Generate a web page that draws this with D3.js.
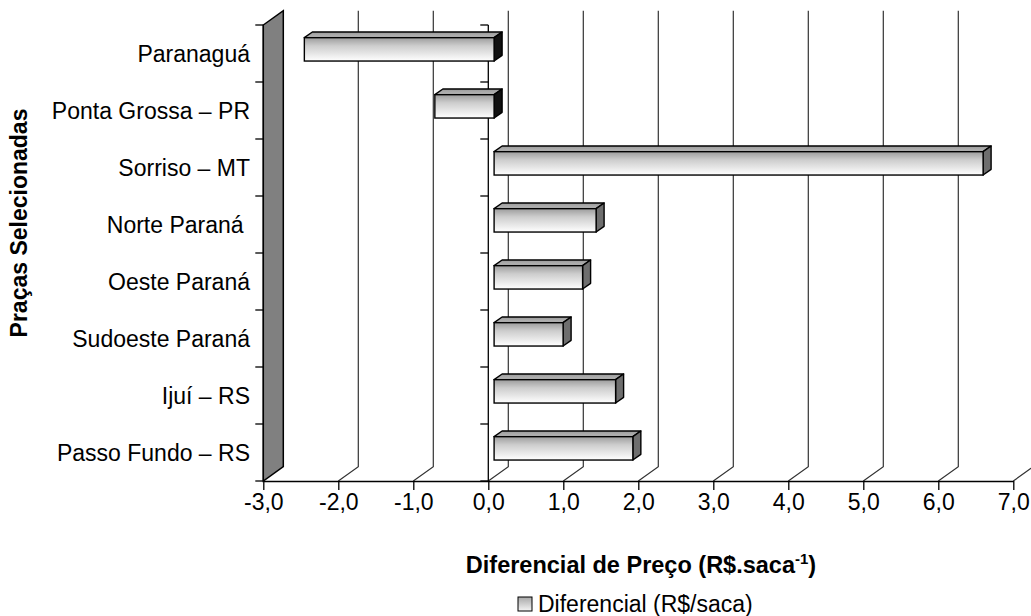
<!DOCTYPE html>
<html>
<head>
<meta charset="utf-8">
<script src="https://cdnjs.cloudflare.com/ajax/libs/d3/7.8.5/d3.min.js"></script>
<style>
  html, body { margin: 0; padding: 0; background: #fff; }
  svg { display: block; font-family: "Liberation Sans", Arial, sans-serif; }
</style>
</head>
<body>
<svg id="chart" width="1031" height="616"></svg>
<script>
// ---- data ----
const categories = ["Paranaguá", "Ponta Grossa – PR", "Sorriso – MT", "Norte Paraná ", "Oeste Paraná", "Sudoeste Paraná", "Ijuí – RS", "Passo Fundo – RS"];
const values = [-2.53, -0.79, 6.52, 1.36, 1.18, 0.92, 1.62, 1.85];
const xTicks = [-3, -2, -1, 0, 1, 2, 3, 4, 5, 6, 7];
const seriesName = "Diferencial (R$/saca)";
const xTitle = "Diferencial de Preço (R$.saca";
const yTitle = "Praças Selecionadas";

// ---- layout ----
const svg = d3.select("#chart");
const x = d3.scaleLinear().domain([-3, 7]).range([263.3, 1013.3]);
const y = d3.scaleBand().domain(categories).range([25, 481]).paddingInner(0).paddingOuter(0);
const DX = 20, DY = -14.3;          // full depth offset
const f1 = 0.29, f2 = 0.69;          // bar depth (front/back fraction)
const barFrac = 0.41;                // bar thickness relative to band
const yTop = y.range()[0], yBot = y.range()[1];
const FS = 23;

const defs = svg.append("defs");
const gFront = defs.append("linearGradient").attr("id", "gFront").attr("x1", 0).attr("y1", 0).attr("x2", 0).attr("y2", 1);
gFront.append("stop").attr("offset", "0%").attr("stop-color", "#9c9c9c");
gFront.append("stop").attr("offset", "35%").attr("stop-color", "#cdcdcd");
gFront.append("stop").attr("offset", "100%").attr("stop-color", "#ffffff");
const gTop = defs.append("linearGradient").attr("id", "gTop").attr("x1", 0).attr("y1", 0).attr("x2", 0).attr("y2", 1);
gTop.append("stop").attr("offset", "0%").attr("stop-color", "#9a9a9a");
gTop.append("stop").attr("offset", "100%").attr("stop-color", "#b8b8b8");
const gLeg = defs.append("linearGradient").attr("id", "gLeg").attr("x1", 0).attr("y1", 0).attr("x2", 0).attr("y2", 1);
gLeg.append("stop").attr("offset", "0%").attr("stop-color", "#a8a8a8");
gLeg.append("stop").attr("offset", "100%").attr("stop-color", "#f4f4f4");

// back gridlines (with floor diagonals)
const grid = svg.append("g");
xTicks.filter(v => v > -3).forEach(v => {
  const xf = x(v), xb = x(v) + DX;
  grid.append("path")
    .attr("d", `M${xb},${yTop + DY}L${xb},${yBot + DY}L${xf},${yBot}`)
    .attr("fill", "none").attr("stroke", "#333").attr("stroke-width", 1.2);
});

// side wall at -3
const x0 = x(-3);
svg.append("path")
  .attr("d", `M${x0},${yTop}L${x0 + DX},${yTop + DY}L${x0 + DX},${yBot + DY}L${x0},${yBot}Z`)
  .attr("fill", "#808080").attr("stroke", "#000").attr("stroke-width", 1.5);

// category axis lines and ticks (wall edge and zero line)
const bounds = d3.range(categories.length + 1).map(i => yTop + i * y.bandwidth());
[x(-3), x(0)].forEach(xx => {
  svg.append("line").attr("x1", xx).attr("x2", xx).attr("y1", yTop).attr("y2", yBot)
    .attr("stroke", "#000").attr("stroke-width", 1.3);
  svg.selectAll(null).data(bounds).enter().append("line")
    .attr("x1", xx - 8).attr("x2", xx).attr("y1", d => d).attr("y2", d => d)
    .attr("stroke", "#000").attr("stroke-width", 1.3);
});

// value axis
const fmt = v => d3.format(".1f")(v).replace(".", ",").replace("−", "-");
const xAxis = d3.axisBottom(x).tickValues(xTicks).tickSize(9).tickSizeOuter(0).tickPadding(4).tickFormat(fmt);
const ax = svg.append("g").attr("transform", `translate(0,${yBot})`).call(xAxis);
ax.select(".domain").attr("stroke", "#000").attr("stroke-width", 1.5);
ax.selectAll(".tick line").attr("stroke", "#000").attr("stroke-width", 1.3);
ax.selectAll(".tick text").attr("font-size", FS).attr("fill", "#000")
  .attr("font-family", "'Liberation Sans', Arial, sans-serif");

// bars
const bars = svg.append("g");
categories.forEach((c, i) => {
  const v = values[i];
  const lo = Math.min(0, v), hi = Math.max(0, v);
  const h = y.bandwidth() * barFrac;
  const cy = y(c) + y.bandwidth() / 2 + f1 * DY;
  const fx0 = x(lo) + f1 * DX, fx1 = x(hi) + f1 * DX;
  const fy0 = cy - h / 2, fy1 = cy + h / 2;
  const ddx = (f2 - f1) * DX, ddy = (f2 - f1) * DY;
  bars.append("path")
    .attr("d", `M${fx0},${fy0}L${fx0 + ddx},${fy0 + ddy}L${fx1 + ddx},${fy0 + ddy}L${fx1},${fy0}Z`)
    .attr("fill", "url(#gTop)").attr("stroke", "#000").attr("stroke-width", 1.4).attr("stroke-linejoin", "round");
  bars.append("path")
    .attr("d", `M${fx1},${fy0}L${fx1 + ddx},${fy0 + ddy}L${fx1 + ddx},${fy1 + ddy}L${fx1},${fy1}Z`)
    .attr("fill", v < 0 ? "#111" : "#6e6e6e").attr("stroke", "#000").attr("stroke-width", 1.4).attr("stroke-linejoin", "round");
  bars.append("rect")
    .attr("x", fx0).attr("y", fy0).attr("width", fx1 - fx0).attr("height", h)
    .attr("fill", "url(#gFront)").attr("stroke", "#000").attr("stroke-width", 1.4);
});

// category labels
svg.append("g").selectAll("text").data(categories).enter().append("text")
  .attr("x", 250).attr("y", d => y(d) + y.bandwidth() / 2)
  .attr("dy", "0.35em").attr("text-anchor", "end")
  .attr("font-size", FS).attr("fill", "#000")
  .style("white-space", "pre").attr("xml:space", "preserve")
  .text(d => d);

// y title
svg.append("text")
  .attr("transform", "translate(27,223) rotate(-90)")
  .attr("text-anchor", "middle").attr("font-size", FS).attr("font-weight", "bold")
  .text(yTitle);

// x title with superscript
const xt = svg.append("text").attr("x", 641).attr("y", 573).attr("text-anchor", "middle")
  .attr("font-size", 23.5).attr("font-weight", "bold");
xt.append("tspan").text(xTitle);
xt.append("tspan").attr("font-size", 15).attr("dy", -9).text("-1");
xt.append("tspan").attr("dy", 9).text(")");

// legend
const lg = svg.append("g");
lg.append("rect").attr("x", 518).attr("y", 597).attr("width", 14).attr("height", 14)
  .attr("fill", "url(#gLeg)").attr("stroke", "#000").attr("stroke-width", 1);
lg.append("text").attr("x", 538).attr("y", 612).attr("font-size", FS).text(seriesName);
</script>
</body>
</html>
